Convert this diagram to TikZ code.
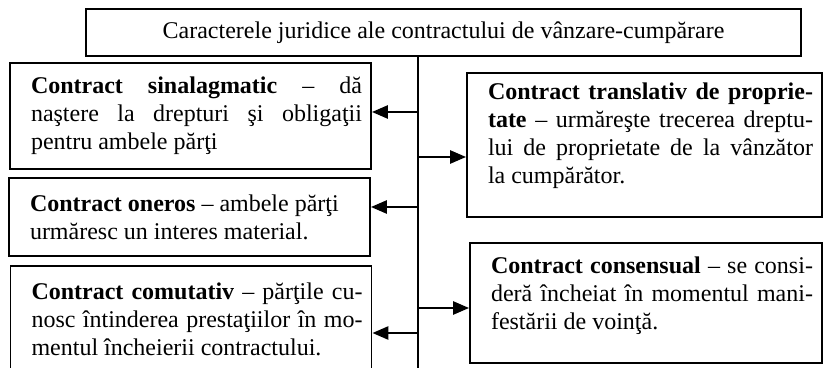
\documentclass[tikz,border=0pt]{standalone}
\usepackage{fontspec}
\setmainfont{Liberation Serif}
\usetikzlibrary{arrows.meta}

\begin{document}
\begin{tikzpicture}[
  x=0.5pt, y=-0.5pt,
  font=\fontsize{12}{14}\selectfont,
  hdr/.style={draw, line width=0.9pt, minimum width=357.5pt, minimum height=23.5pt, inner sep=0pt},
  box/.style={draw, line width=0.9pt, align=justify, inner xsep=4.5pt, inner ysep=0pt,
    execute at begin node={\leftskip=6pt\tolerance=10000\hyphenpenalty=10000}},
  lift/.style={execute at end node={\endgraf\vspace*{#1}}},
  spine/.style={line width=0.8pt},
  arr/.style={-{Triangle[length=8pt,width=6.5pt]}, line width=1.3pt}
]
\useasboundingbox (0,0) rectangle (823,368);
\clip (0,0) rectangle (823,368);
\node[hdr] (title) at (443.5,32.5) {Caracterele juridice ale contractului de vânzare-cumpărare};
% left column
\node[box, text width=171.5pt, minimum height=53pt] (box-l1) at (190.5,116) {\textbf{Contract sinalagmatic} -- dă\linebreak naştere la drepturi şi obligaţii\linebreak pentru ambele părţi};
\node[box, text width=171.5pt, minimum height=39pt] (box-l2) at (189.5,217) {\textbf{Contract oneros} -- ambele părţi\\ urmăresc un interes material.};
\node[box, text width=171.5pt, minimum height=53pt] (box-l3) at (191,319) {\textbf{Contract comutativ} -- părţile cu-\linebreak nosc întinderea prestaţiilor în mo-\linebreak mentul încheierii contractului.};
% right column
\node[box, text width=168.5pt, minimum height=72pt, lift=9pt] (box-r1) at (644.5,145) {\textbf{Contract translativ de proprie-\linebreak tate} -- urmăreşte trecerea dreptu-\linebreak lui de proprietate de la vânzător\linebreak la cumpărător.};
\node[box, text width=167pt, minimum height=60pt, lift=7.5pt] (box-r2) at (646,303) {\textbf{Contract consensual} -- se consi-\linebreak deră încheiat în momentul mani-\linebreak festării de voinţă.};
% spine and arrows
\coordinate (spine-bot) at (418,372);
\draw[spine] (title.south -| spine-bot) -- (spine-bot);
\coordinate (tap-l1) at (418,112);
\coordinate (tap-l2) at (418,207);
\coordinate (tap-l3) at (418,333);
\coordinate (tap-r1) at (418,157);
\coordinate (tap-r2) at (418,308);
\draw[arr] (tap-l1) -- (tap-l1 -| box-l1.east);
\draw[arr] (tap-l2) -- (tap-l2 -| box-l2.east);
\draw[arr] (tap-l3) -- (tap-l3 -| box-l3.east);
\draw[arr] (tap-r1) -- (tap-r1 -| box-r1.west);
\draw[arr] (tap-r2) -- (tap-r2 -| box-r2.west);
\end{tikzpicture}
\end{document}
